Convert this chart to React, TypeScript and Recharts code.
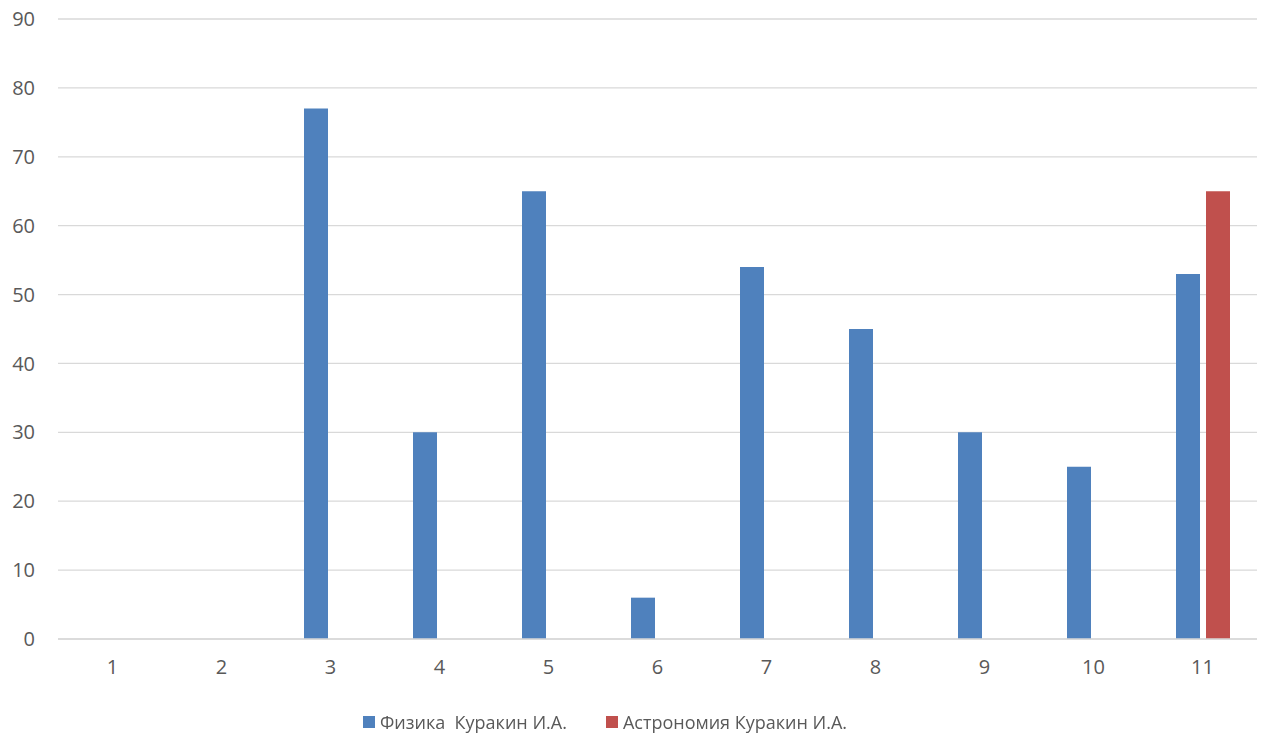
import { BarChart, Bar, XAxis, YAxis, CartesianGrid, Legend } from 'recharts';

// Données
const classes = ['1', '2', '3', '4', '5', '6', '7', '8', '9', '10', '11'];
const physique = [0, 0, 77, 30, 65, 6, 54, 45, 30, 25, 53];
const astronomie = [null, null, null, null, null, null, null, null, null, null, 65];
const yTicks = [0, 10, 20, 30, 40, 50, 60, 70, 80, 90];

const PHYS_NAME = 'Физика  Куракин И.А.';
const ASTRO_NAME = 'Астрономия Куракин И.А.';
const BLUE = '#4f81bd';
const RED = '#c0504d';
const TEXT = '#595959';
const FONT = '"Open Sans", "Noto Sans", sans-serif';

const data = classes.map((c, i) => ({
  name: c,
  phys: physique[i],
  astro: astronomie[i],
}));

function LegendContent() {
  const items = [
    { label: PHYS_NAME, color: BLUE },
    { label: ASTRO_NAME, color: RED },
  ];
  return (
    <div style={{ display: 'flex', alignItems: 'center', gap: 39, height: 40, paddingLeft: 363 }}>
      {items.map((it) => (
        <div key={it.label} style={{ display: 'flex', alignItems: 'center' }}>
          <span style={{ width: 12, height: 12, background: it.color, display: 'inline-block', marginRight: 5 }} />
          <span style={{ fontFamily: FONT, fontSize: 18, color: TEXT, whiteSpace: 'pre' }}>{it.label}</span>
        </div>
      ))}
    </div>
  );
}

export default function App() {
  return (
    <div style={{ position: 'fixed', left: 0, top: 0, width: 1262, height: 736, background: '#fff' }}>
      <BarChart
        width={1262}
        height={736}
        data={data}
        margin={{ top: 19, right: 5, left: 0, bottom: 17 }}
        barCategoryGap={26}
        barGap={6}
      >
        <CartesianGrid vertical={false} stroke="#d9d9d9" strokeWidth={1.3} />
        <XAxis
          dataKey="name"
          height={40}
          tickLine={false}
          tickSize={0}
          tickMargin={21}
          axisLine={{ stroke: '#d9d9d9', strokeWidth: 1.3 }}
          tick={{ fontSize: 20, fill: TEXT, fontFamily: FONT }}
        />
        <YAxis
          width={58}
          domain={[0, 90]}
          ticks={yTicks}
          interval={0}
          tickLine={false}
          tickSize={0}
          tickMargin={23}
          axisLine={false}
          tick={{ fontSize: 20, fill: TEXT, fontFamily: FONT }}
        />
        <Legend
          verticalAlign="bottom"
          height={40}
          content={<LegendContent />}
          wrapperStyle={{ top: 702, left: 0, width: 1262 }}
        />
        <Bar dataKey="phys" name={PHYS_NAME} fill={BLUE} barSize={24} isAnimationActive={false} />
        <Bar dataKey="astro" name={ASTRO_NAME} fill={RED} barSize={24} isAnimationActive={false} />
      </BarChart>
    </div>
  );
}
